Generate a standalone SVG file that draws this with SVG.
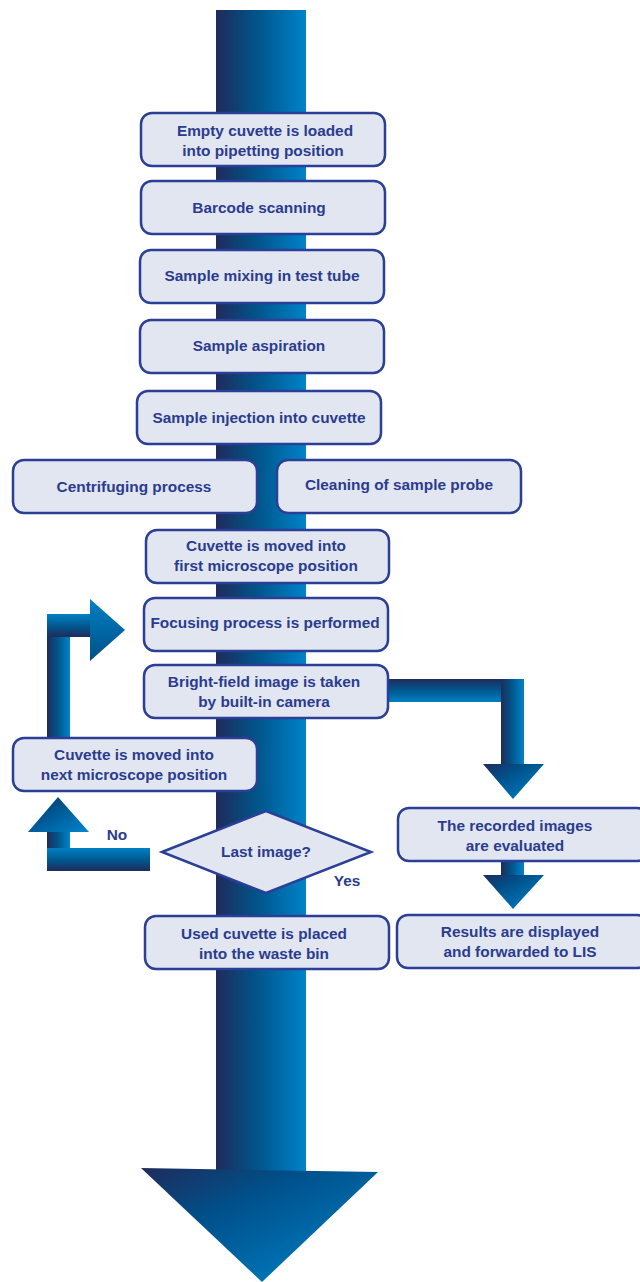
<svg xmlns="http://www.w3.org/2000/svg" width="640" height="1282" viewBox="0 0 640 1282">
<style>
.box{fill:#e1e6f0;stroke:#2b3f96;stroke-width:2.5}
.t{font-family:"Liberation Sans",Arial,sans-serif;font-weight:bold;font-size:15.4px;fill:#2b3c8f;text-anchor:middle}
</style>
<defs>
<linearGradient id="gh" x1="0" y1="0" x2="1" y2="0">
<stop offset="0" stop-color="#1f2b5b"/><stop offset="0.45" stop-color="#005489"/><stop offset="1" stop-color="#0083c9"/>
</linearGradient>
<linearGradient id="gvd" x1="0" y1="0" x2="0" y2="1">
<stop offset="0" stop-color="#1f2b5b"/><stop offset="0.45" stop-color="#005489"/><stop offset="1" stop-color="#0080c4"/>
</linearGradient>
<linearGradient id="gvu" x1="0" y1="1" x2="0" y2="0">
<stop offset="0" stop-color="#1f2b5b"/><stop offset="0.5" stop-color="#005a92"/><stop offset="1" stop-color="#0080c4"/>
</linearGradient>
<linearGradient id="gd" x1="0" y1="0" x2="1" y2="1">
<stop offset="0" stop-color="#1f2b5b"/><stop offset="0.35" stop-color="#00508a"/><stop offset="1" stop-color="#0086cc"/>
</linearGradient>
<linearGradient id="gtr" x1="0" y1="0" x2="0" y2="1">
<stop offset="0" stop-color="#0080c4"/><stop offset="1" stop-color="#004f86"/>
</linearGradient>
</defs>
<g id="connectors">
<rect x="216" y="10" width="90" height="1162" fill="url(#gh)"/>
<polygon points="141,1168 378,1172 262,1282" fill="url(#gd)"/>
<rect x="47" y="614" width="23" height="124" fill="url(#gh)"/>
<rect x="47" y="614" width="44" height="23" fill="url(#gvu)"/>
<polygon points="90,599 125,630 90,661" fill="url(#gtr)"/>
<rect x="47" y="825" width="23" height="30" fill="url(#gh)"/>
<rect x="47" y="848" width="103" height="23" fill="url(#gvu)"/>
<polygon points="28,832 89,832 58,797" fill="url(#gd)"/>
<rect x="388" y="679" width="136" height="23" fill="url(#gvd)"/>
<rect x="501" y="679" width="23" height="86" fill="url(#gh)"/>
<polygon points="483,764 544,764 513,799" fill="url(#gd)"/>
<rect x="501" y="860" width="23" height="16" fill="url(#gh)"/>
<polygon points="483,875 544,875 513,909" fill="url(#gd)"/>
</g>
<g id="n1"><rect class="box" x="141" y="113" width="244" height="53" rx="11"/><text class="t" x="265" y="136">Empty cuvette is loaded</text><text class="t" x="263" y="156">into pipetting position</text></g>
<g id="n2"><rect class="box" x="141" y="181" width="244" height="53" rx="11"/><text class="t" x="259" y="213">Barcode scanning</text></g>
<g id="n3"><rect class="box" x="140" y="250" width="244" height="53" rx="11"/><text class="t" x="262" y="281">Sample mixing in test tube</text></g>
<g id="n4"><rect class="box" x="140" y="320" width="244" height="53" rx="11"/><text class="t" x="259" y="351">Sample aspiration</text></g>
<g id="n5"><rect class="box" x="137" y="391" width="244" height="53" rx="11"/><text class="t" x="259" y="423">Sample injection into cuvette</text></g>
<g id="n6"><rect class="box" x="13" y="460" width="244" height="53" rx="11"/><text class="t" x="134" y="492">Centrifuging process</text></g>
<g id="n7"><rect class="box" x="277" y="460" width="244" height="53" rx="11"/><text class="t" x="399" y="490">Cleaning of sample probe</text></g>
<g id="n8"><rect class="box" x="146" y="530" width="243" height="53" rx="11"/><text class="t" x="266" y="551">Cuvette is moved into</text><text class="t" x="266" y="571">first microscope position</text></g>
<g id="n9"><rect class="box" x="144" y="598" width="244" height="53" rx="11"/><text class="t" x="265" y="628">Focusing process is performed</text></g>
<g id="n10"><rect class="box" x="144" y="665" width="244" height="53" rx="11"/><text class="t" x="264" y="687">Bright-field image is taken</text><text class="t" x="264" y="707">by built-in camera</text></g>
<g id="n11"><rect class="box" x="13" y="738" width="244" height="53" rx="11"/><text class="t" x="134" y="760">Cuvette is moved into</text><text class="t" x="134" y="780">next microscope position</text></g>
<g id="n12"><polygon class="box" points="162,852 266,811 371,852 266,893"/><text class="t" x="266" y="857">Last image?</text></g>
<text class="t" x="117" y="840">No</text>
<text class="t" x="347" y="886">Yes</text>
<g id="n13"><rect class="box" x="145" y="916" width="244" height="53" rx="11"/><text class="t" x="264" y="939">Used cuvette is placed</text><text class="t" x="264" y="959">into the waste bin</text></g>
<g id="n14"><rect class="box" x="398" y="808" width="250" height="53" rx="11"/><text class="t" x="515" y="831">The recorded images</text><text class="t" x="515" y="851">are evaluated</text></g>
<g id="n15"><rect class="box" x="397" y="915" width="251" height="53" rx="11"/><text class="t" x="520" y="937">Results are displayed</text><text class="t" x="520" y="957">and forwarded to LIS</text></g>
</svg>
